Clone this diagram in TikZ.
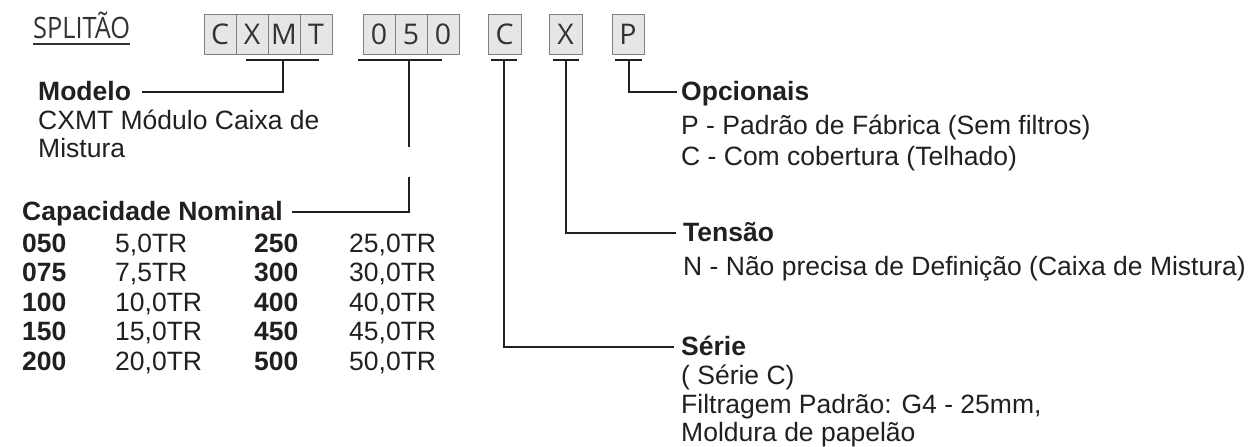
\documentclass[tikz,border=0pt]{standalone}
\usepackage{fontspec}
\setmainfont{Liberation Sans}
\newfontfamily\boxfont{Open Sans}
\definecolor{ink}{HTML}{231F20}
\definecolor{cellfill}{HTML}{E6E6E6}
\definecolor{cellline}{HTML}{808080}
\definecolor{titlegray}{HTML}{333333}
\begin{document}
\begin{tikzpicture}[x=1pt,y=-1pt,
  cell/.style={draw=cellline, fill=cellfill, line width=1pt, minimum width=32pt, minimum height=40pt, inner sep=0pt, font=\boxfont\fontsize{28.5}{28.5}\selectfont, text=titlegray},
  conn/.style={draw=ink, line width=2pt},
  heading/.style={font=\bfseries\fontsize{26.5}{30}\selectfont, text=ink, anchor=base west, inner sep=0pt},
  body/.style={font=\fontsize{26.5}{30}\selectfont, text=ink, anchor=base west, inner sep=0pt},
  num/.style={font=\bfseries\fontsize{26.5}{30}\selectfont, text=ink, anchor=base west, inner sep=0pt}
]
\useasboundingbox (0,0) rectangle (1251,447);

% title
\node[anchor=base west, inner sep=0pt, font=\boxfont\fontsize{29.5}{29.5}\selectfont, text=titlegray] (splitao) at (33,38) {\scalebox{0.86}[1]{SPLITÃO}};
\draw[titlegray, line width=1.6pt] ([yshift=-6pt]splitao.base west) -- ([yshift=-6pt]splitao.base east);

% code cells
\node[cell] (c1) at (220,34) {C};
\node[cell] (c2) at (252,34) {X};
\node[cell] (c3) at (284,34) {M};
\node[cell] (c4) at (316,34) {T};
\node[cell] (n1) at (379,34) {0};
\node[cell] (n2) at (411,34) {5};
\node[cell] (n3) at (443,34) {0};
\node[cell, minimum width=33pt] (ser) at (504.5,34) {C};
\node[cell, minimum width=33pt] (ten) at (565.5,34) {X};
\node[cell] (opc) at (628,34) {P};

% bracket coordinates
\coordinate (b1l) at (246,60); \coordinate (b1r) at (319,60); \coordinate (b1m) at (283,60);
\coordinate (b2l) at (358,60); \coordinate (b2r) at (442,60); \coordinate (b2m) at (409,60);
\coordinate (b3l) at (491,60); \coordinate (b3r) at (517,60); \coordinate (b3m) at (504,60);
\coordinate (b4l) at (553,60); \coordinate (b4r) at (579,60); \coordinate (b4m) at (566,60);
\coordinate (b5l) at (615,60); \coordinate (b5r) at (642,60); \coordinate (b5m) at (629,60);

% Modelo
\node[heading] (modelo) at (38,100) {Modelo};
\node[body] (modelo1) at (38,129) {CXMT Módulo Caixa de};
\node[body] (modelo2) at (38,157) {Mistura};
\coordinate (e1) at (142,92);
\draw[conn] (b1l) -- (b1r);
\draw[conn] (b1m) |- (e1);

% Capacidade
\node[heading] (cap) at (22,220) {Capacidade Nominal};
\coordinate (g1) at (409,147);
\coordinate (g2) at (409,177);
\coordinate (e2) at (292,212);
\draw[conn] (b2l) -- (b2r);
\draw[conn] (b2m) -- (g1);
\draw[conn] (g2) |- (e2);

\node[num] (r1a) at (22,252) {050}; \node[body] (r1b) at (115,252) {5,0TR};
\node[num] (r1c) at (254,252) {250}; \node[body] (r1d) at (349,252) {25,0TR};
\node[num] (r2a) at (22,281.5) {075}; \node[body] (r2b) at (115,281.5) {7,5TR};
\node[num] (r2c) at (254,281.5) {300}; \node[body] (r2d) at (349,281.5) {30,0TR};
\node[num] (r3a) at (22,311) {100}; \node[body] (r3b) at (115,311) {10,0TR};
\node[num] (r3c) at (254,311) {400}; \node[body] (r3d) at (349,311) {40,0TR};
\node[num] (r4a) at (22,340.5) {150}; \node[body] (r4b) at (115,340.5) {15,0TR};
\node[num] (r4c) at (254,340.5) {450}; \node[body] (r4d) at (349,340.5) {45,0TR};
\node[num] (r5a) at (22,370) {200}; \node[body] (r5b) at (115,370) {20,0TR};
\node[num] (r5c) at (254,370) {500}; \node[body] (r5d) at (349,370) {50,0TR};

% Opcionais
\node[heading] (opch) at (681,100) {Opcionais};
\node[body] (opc1) at (681,134) {P - Padrão de Fábrica (Sem filtros)};
\node[body] (opc2) at (681,165) {C - Com cobertura (Telhado)};
\coordinate (e5) at (677,92);
\draw[conn] (b5l) -- (b5r);
\draw[conn] (b5m) |- (e5);

% Tensao
\node[heading] (tenh) at (683,241) {Tensão};
\node[body] (ten1) at (683,275) {N - Não precisa de Definição (Caixa de Mistura)};
\coordinate (e4) at (676,233);
\draw[conn] (b4l) -- (b4r);
\draw[conn] (b4m) |- (e4);

% Serie
\node[heading] (serh) at (681,355) {Série};
\node[body] (ser1) at (681,384) {( Série C)};
\node[body] (ser2) at (681,413) {Filtragem Padrão: G4 - 25mm,};
\node[body] (ser3) at (681,441) {Moldura de papelão};
\coordinate (e3) at (674,347);
\draw[conn] (b3l) -- (b3r);
\draw[conn] (b3m) |- (e3);
\end{tikzpicture}
\end{document}
